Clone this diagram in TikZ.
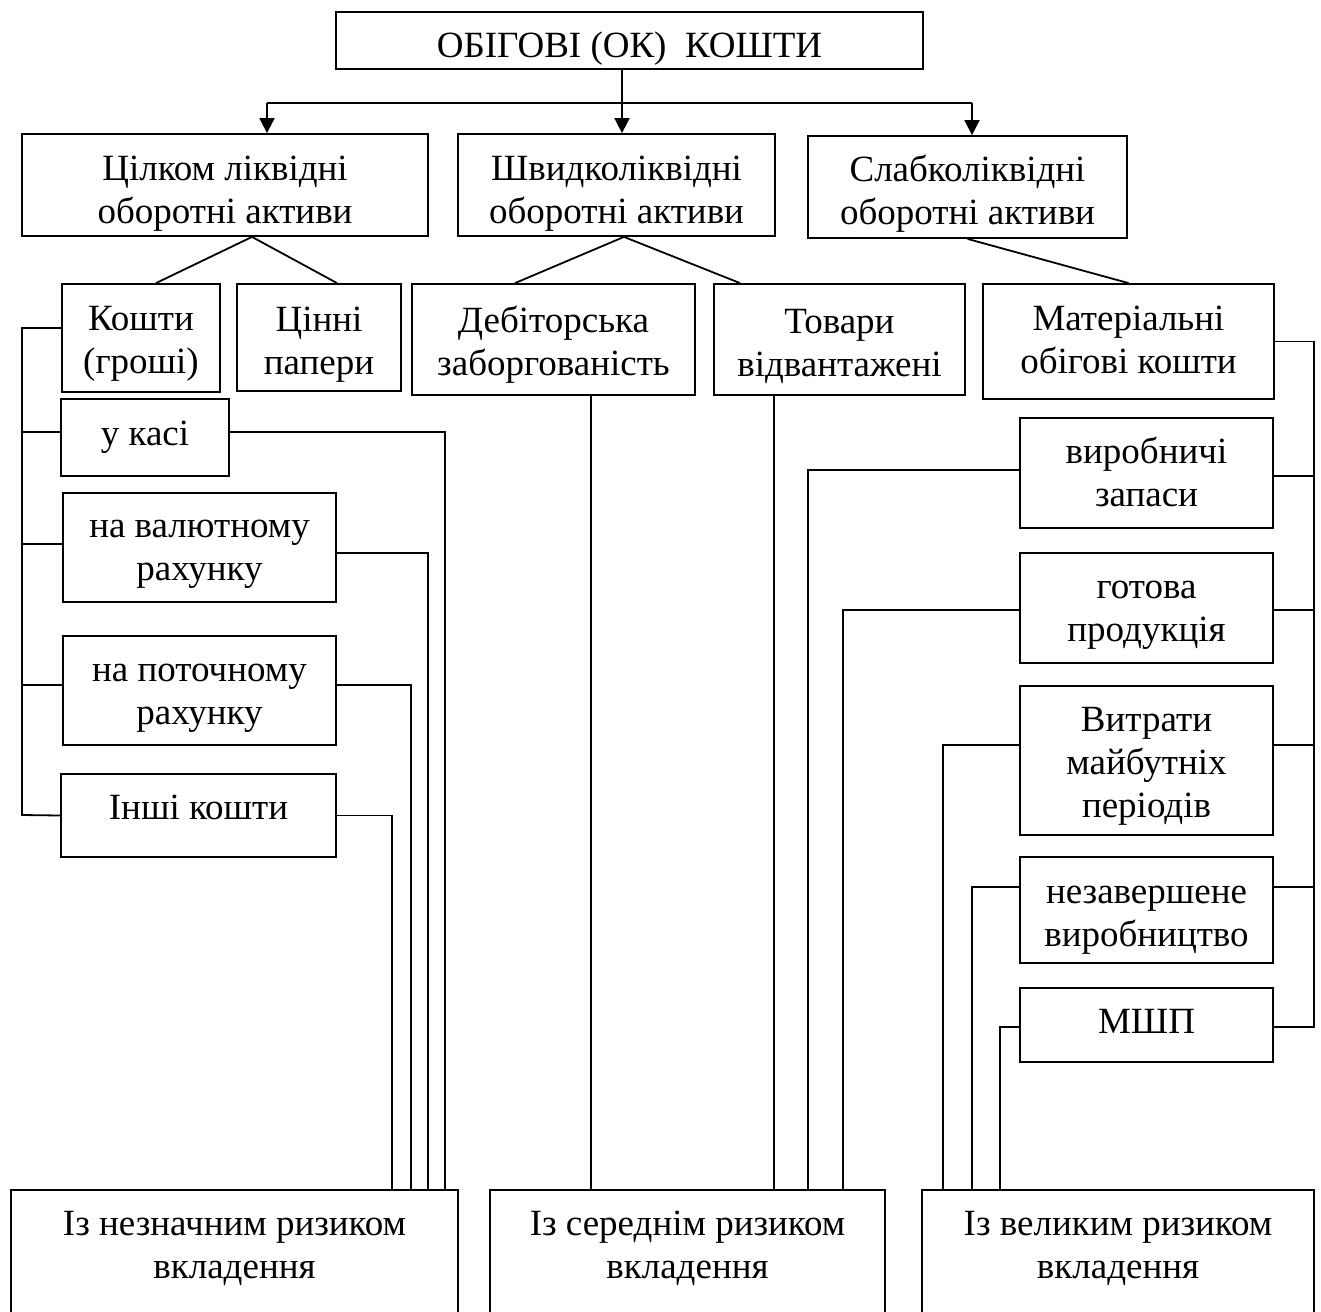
\documentclass[tikz,border=0pt]{standalone}
\usepackage{fontspec}
\setmainfont{Liberation Serif}
\usetikzlibrary{arrows.meta}
\tikzset{sz/.style 2 args={minimum width=#1,minimum height=#2},
         tx/.style 2 args={execute at begin node={\rule[-#1]{0pt}{#2}}}}

\begin{document}
\begin{tikzpicture}[x=1pt,y=-1pt,
            box/.style={draw,rectangle,line width=1.8pt,inner sep=0pt,align=center,font=\fontsize{37}{43}\selectfont},
            link/.style={draw,line width=1.8pt},
            down/.style={link,-{Triangle[length=15pt,width=15pt]}}
          ]
          \useasboundingbox (0,0) rectangle (1321,1311);

          \node[box,tx={9pt}{53pt},sz={587pt}{57pt}] (ok) at (629.5,40.5) {ОБІГОВІ (ОК)~ КОШТИ};

          %groups
          \node[box,tx={9pt}{94pt},sz={406pt}{102pt}] (liq) at (225,185) {Цілком ліквідні\\оборотні активи};
          \node[box,tx={9pt}{94pt},sz={317pt}{102pt}] (fast) at (616.5,185) {Швидколіквідні\\оборотні активи};
          \node[box,tx={9pt}{92pt},sz={319pt}{102pt}] (slow) at (967.5,187) {Слабколіквідні\\оборотні активи};

          \coordinate (jl) at (267,103);
          \coordinate (jm) at (622,103);
          \coordinate (jr) at (972,103);
          \path[link] (ok.south -| jm) -- (jm);
          \path[link] (jl) -- (jr);
          \path[down] (jl) -- (jl |- liq.north);
          \path[down] (jm) -- (jm |- fast.north);
          \path[down] (jr) -- (jr |- slow.north);

          %second row
          \node[box,tx={9pt}{88pt},sz={158pt}{108pt}] (cash) at (141,338) {Кошти\\(гроші)};
          \node[box,tx={9pt}{91pt},sz={164pt}{107pt}] (sec) at (319,337.5) {Цінні\\папери};
          \node[box,tx={9pt}{90pt},sz={283pt}{111pt}] (debt) at (553.5,339.5) {Дебіторська\\заборгованість};
          \node[box,tx={9pt}{92pt},sz={251pt}{111pt}] (ship) at (839.5,339.5) {Товари\\відвантажені};
          \node[box,tx={9pt}{82pt},sz={291pt}{115pt}] (mat) at (1128.5,341.5) {Матеріальні\\обігові кошти};

          \path[link] ([xshift=15pt]cash.north) -- ([xshift=27pt]liq.south) -- ([xshift=18pt]sec.north);
          \path[link] ([xshift=-38.5pt]debt.north) -- ([xshift=7.5pt]fast.south) -- ([xshift=-99.5pt]ship.north);
          \path[link] (slow.south) -- (mat.north);

          %cash
          \node[box,tx={9pt}{34pt},sz={168pt}{77pt}] (kasa) at (145,437.5) {у касі};
          \node[box,tx={9pt}{84pt},sz={273pt}{109pt}] (val) at (199.5,547.5) {на валютному\\рахунку};
          \node[box,tx={9pt}{85pt},sz={273pt}{109pt}] (cur) at (199.5,690.5) {на поточному\\рахунку};
          \node[box,tx={17pt}{42pt},sz={275pt}{83pt}] (other) at (198.5,815.5) {Інші кошти};

          %material
          \node[box,tx={9pt}{85pt},sz={253pt}{110pt}] (stock) at (1146.5,473) {виробничі\\запаси};
          \node[box,tx={9pt}{85pt},sz={253pt}{110pt}] (fin) at (1146.5,608) {готова\\продукція};
          \node[box,tx={9pt}{132pt},sz={253pt}{149pt}] (fut) at (1146.5,760.5) {Витрати\\майбутніх\\періодів};
          \node[box,tx={9pt}{91pt},sz={253pt}{106pt}] (wip) at (1146.5,910) {незавершене\\виробництво};
          \node[box,tx={9pt}{34pt},sz={253pt}{74pt}] (msp) at (1146.5,1025) {МШП};

          %risk
          \node[box,tx={15pt}{83pt},sz={447pt}{124pt}] (low) at (234.5,1252) {Із незначним ризиком\\вкладення};
          \node[box,tx={15pt}{83pt},sz={395pt}{124pt}] (mid) at (687.5,1252) {Із середнім ризиком\\вкладення};
          \node[box,tx={15pt}{83pt},sz={392pt}{124pt}] (high) at (1118,1252) {Із великим ризиком\\вкладення};

          %left bus
          \coordinate (lbus) at (22,815);
          \path[link] ([yshift=10pt]cash.west) -| (lbus) -- (other.west);
          \path[link] ([yshift=5.5pt]kasa.west) -| (lbus);
          \path[link] ([yshift=3.5pt]val.west) -| (lbus);
          \path[link] ([yshift=5.5pt]cur.west) -| (lbus);

          %right bus
          \coordinate (rbus) at (1314,1027);
          \path[link] (mat.east) -| (rbus) -- ([yshift=-2pt]msp.east);
          \path[link] ([yshift=-3pt]stock.east) -| (rbus);
          \path[link] ([yshift=-2pt]fin.east) -| (rbus);
          \path[link] ([yshift=15.5pt]fut.east) -| (rbus);
          \path[link] ([yshift=23pt]wip.east) -| (rbus);

          %to risk boxes
          \path[link] ([yshift=5.5pt]kasa.east) -| ([xshift=210.5pt]low.north);
          \path[link] ([yshift=-5.5pt]val.east) -| ([xshift=193.5pt]low.north);
          \path[link] ([yshift=5.5pt]cur.east) -| ([xshift=176.5pt]low.north);
          \path[link] (other.east) -| ([xshift=157.5pt]low.north);

          \path[link] ([xshift=37.5pt]debt.south) -- ([xshift=-96.5pt]mid.north);
          \path[link] ([xshift=-65.5pt]ship.south) -- ([xshift=86.5pt]mid.north);
          \path[link] ([yshift=3pt]stock.west) -| ([xshift=120.5pt]mid.north);
          \path[link] ([yshift=-2pt]fin.west) -| ([xshift=155.5pt]mid.north);

          \path[link] ([yshift=15.5pt]fut.west) -| ([xshift=-175pt]high.north);
          \path[link] ([yshift=23pt]wip.west) -| ([xshift=-146pt]high.north);
          \path[link] ([yshift=-2pt]msp.west) -| ([xshift=-118pt]high.north);
      \end{tikzpicture}
\end{document}
